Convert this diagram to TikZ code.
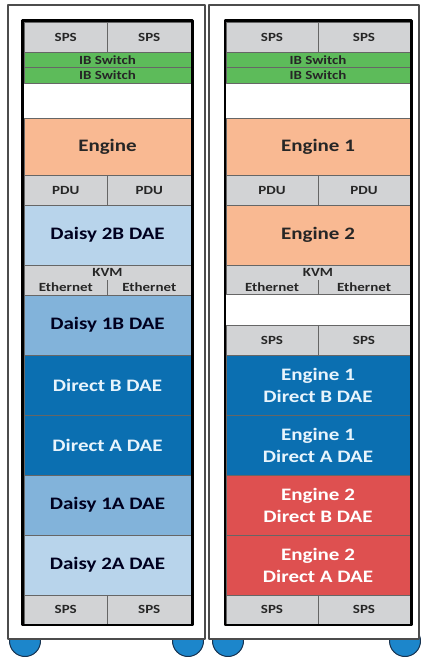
\documentclass[tikz,border=0pt]{standalone}
\usepackage{fontspec}
\setmainfont{Carlito}[FakeStretch=1.2]
\definecolor{rackgray}{HTML}{D2D3D5}
\definecolor{ibgreen}{HTML}{5DBB5A}
\definecolor{enginepeach}{HTML}{F9B992}
\definecolor{daisylight}{HTML}{B8D4EB}
\definecolor{daisymid}{HTML}{82B3DA}
\definecolor{directblue}{HTML}{0B6FB1}
\definecolor{directred}{HTML}{DE5050}
\definecolor{wheelblue}{HTML}{1C86CB}
\definecolor{wheeledge}{HTML}{17324F}
\begin{document}
\begin{tikzpicture}[x=1pt,y=-1pt,line join=bevel,
  slot/.style={draw=black!60,line width=0.6pt,inner sep=0pt,outer sep=0pt,anchor=north west,
    align=center,text=black!85,font=\bfseries\fontsize{12.5}{13}\selectfont},
  bigslot/.style={slot,minimum height=60pt,font=\bfseries\fontsize{17.5}{22}\selectfont},
  spsbox/.style={slot,fill=rackgray,minimum height=30pt},
  ibbox/.style={slot,fill=ibgreen,minimum height=15.5pt},
  kvmbox/.style={slot,draw=none,fill=rackgray,minimum height=15pt},
  enginebox/.style={bigslot,fill=enginepeach},
  daisyA/.style={bigslot,fill=daisylight,text=black!80!blue!60!black},
  daisyB/.style={bigslot,fill=daisymid,text=black!80!blue!60!black},
  directbox/.style={bigslot,fill=directblue,text={rgb,255:red,232;green,244;blue,252}},
  redbox/.style={bigslot,fill=directred,text=white},
  lfull/.style={minimum width=167pt},
  lhalf/.style={minimum width=83.5pt},
  rfull/.style={minimum width=184pt},
  rhalf/.style={minimum width=92pt},
  rule/.style={draw=black!60,line width=0.6pt},
  cabinet/.style={draw=black!70,line width=1.5pt,fill=white},
  frame/.style={draw=black,line width=2.5pt},
  wheel/.style={fill=wheelblue,draw=wheeledge,line width=1pt},
]
\useasboundingbox (0,0) rectangle (422,657);
%%
  \draw [wheel] (25,641) circle (15.5);
  \draw [wheel] (188,641) circle (15.5);
  \draw [wheel] (228,641) circle (15.5);
  \draw [wheel] (405,641) circle (15.5);
  \draw [cabinet] (8,5) rectangle (205,639);
  \draw [cabinet] (209,5) rectangle (419,639);
%% left rack
  \node [spsbox,lhalf] (l_sps_1) at (24,22) {SPS};
  \node [spsbox,lhalf] (l_sps_2) at (107.5,22) {SPS};
  \node [ibbox,lfull] (l_ib_1) at (24,52) {IB Switch};
  \node [ibbox,lfull] (l_ib_2) at (24,67.5) {IB Switch};
  \node [enginebox,lfull,minimum height=57pt] (l_engine) at (24,118) {Engine};
  \node [spsbox,lhalf] (l_pdu_1) at (24,175) {PDU};
  \node [spsbox,lhalf] (l_pdu_2) at (107.5,175) {PDU};
  \node [daisyA,lfull] (l_daisy_2b) at (24,205) {Daisy 2B DAE};
  \node [kvmbox,lfull] (l_kvm) at (24,265) {KVM};
  \node [kvmbox,lhalf] (l_eth_1) at (24,280) {Ethernet};
  \node [kvmbox,lhalf] (l_eth_2) at (107.5,280) {Ethernet};
  \draw [rule] (l_kvm.north west) rectangle (l_eth_2.south east);
  \draw [rule] (l_eth_1.north east) -- (l_eth_1.south east);
  \node [daisyB,lfull] (l_daisy_1b) at (24,295) {Daisy 1B DAE};
  \node [directbox,lfull] (l_direct_b) at (24,355) {Direct B DAE};
  \node [directbox,lfull] (l_direct_a) at (24,415) {Direct A DAE};
  \node [daisyB,lfull] (l_daisy_1a) at (24,475) {Daisy 1A DAE};
  \node [daisyA,lfull] (l_daisy_2a) at (24,535) {Daisy 2A DAE};
  \node [spsbox,lhalf,minimum height=29.5pt] (l_sps_3) at (24,595) {SPS};
  \node [spsbox,lhalf,minimum height=29.5pt] (l_sps_4) at (107.5,595) {SPS};
  \draw [frame] (22.5,20.5) rectangle (192.5,625);
%% right rack
  \node [spsbox,rhalf] (r_sps_1) at (226,22) {SPS};
  \node [spsbox,rhalf] (r_sps_2) at (318,22) {SPS};
  \node [ibbox,rfull] (r_ib_1) at (226,52) {IB Switch};
  \node [ibbox,rfull] (r_ib_2) at (226,67.5) {IB Switch};
  \node [enginebox,rfull,minimum height=57pt] (r_engine_1) at (226,118) {Engine 1};
  \node [spsbox,rhalf] (r_pdu_1) at (226,175) {PDU};
  \node [spsbox,rhalf] (r_pdu_2) at (318,175) {PDU};
  \node [enginebox,rfull] (r_engine_2) at (226,205) {Engine 2};
  \node [kvmbox,rfull] (r_kvm) at (226,265) {KVM};
  \node [kvmbox,rhalf,minimum height=14pt] (r_eth_1) at (226,280) {Ethernet};
  \node [kvmbox,rhalf,minimum height=14pt] (r_eth_2) at (318,280) {Ethernet};
  \draw [rule] (r_kvm.north west) rectangle (r_eth_2.south east);
  \draw [rule] (r_eth_1.north east) -- (r_eth_1.south east);
  \node [spsbox,rhalf] (r_sps_3) at (226,325) {SPS};
  \node [spsbox,rhalf] (r_sps_4) at (318,325) {SPS};
  \node [directbox,rfull] (r_e1_direct_b) at (226,355) {Engine 1\\Direct B DAE};
  \node [directbox,rfull] (r_e1_direct_a) at (226,415) {Engine 1\\Direct A DAE};
  \node [redbox,rfull] (r_e2_direct_b) at (226,475) {Engine 2\\Direct B DAE};
  \node [redbox,rfull] (r_e2_direct_a) at (226,535) {Engine 2\\Direct A DAE};
  \node [spsbox,rhalf,minimum height=29.5pt] (r_sps_5) at (226,595) {SPS};
  \node [spsbox,rhalf,minimum height=29.5pt] (r_sps_6) at (318,595) {SPS};
  \draw [frame] (224.75,20.5) rectangle (411.25,625);
\end{tikzpicture}
\end{document}
